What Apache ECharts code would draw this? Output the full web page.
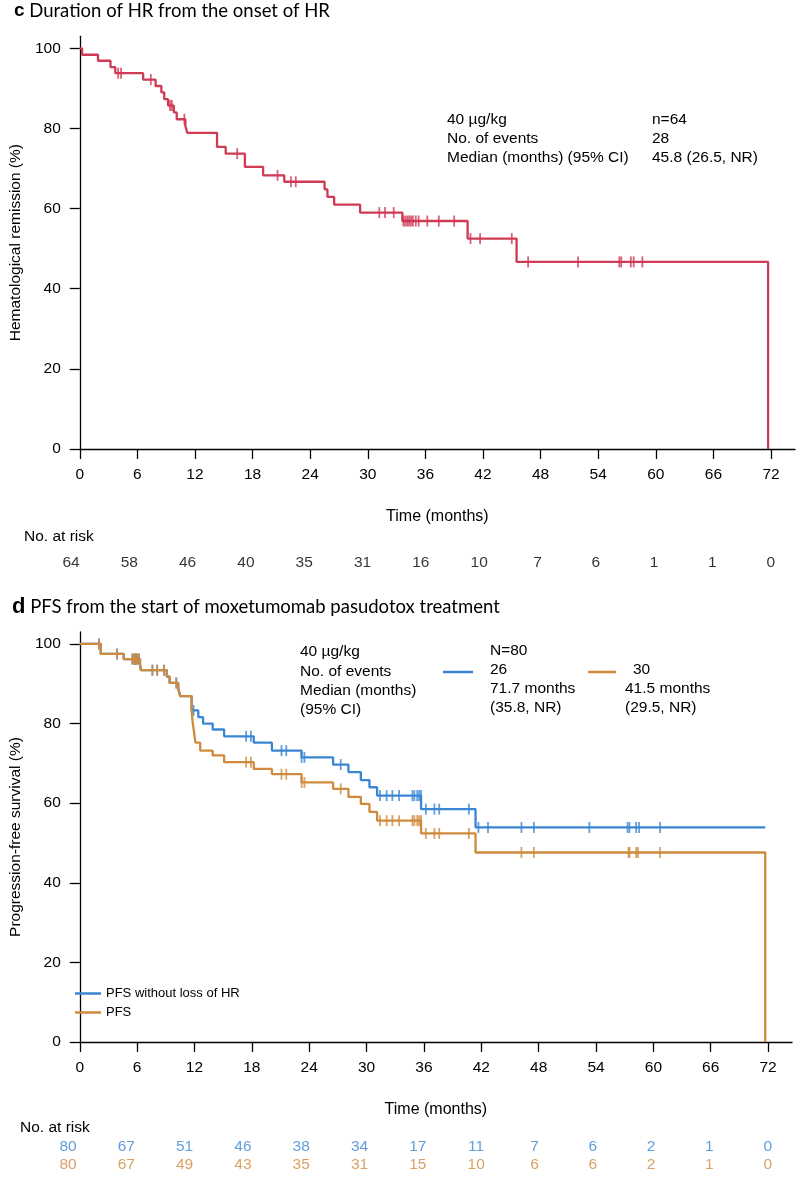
<!DOCTYPE html>
<html><head><meta charset="utf-8">
<script src="https://cdn.jsdelivr.net/npm/echarts@6/dist/echarts.min.js"></script>
<style>html,body{margin:0;padding:0;background:#fff}#c{width:800px;height:1178px}</style>
</head><body><div id="c"></div>
<script>
// ---------- data ----------
const xTicks = [0, 6, 12, 18, 24, 30, 36, 42, 48, 54, 60, 66, 72];
const yTicks = [0, 20, 40, 60, 80, 100];

const hrRisk = [64, 58, 46, 40, 35, 31, 16, 10, 7, 6, 1, 1, 0];
const pfsNoLossRisk = [80, 67, 51, 46, 38, 34, 17, 11, 7, 6, 2, 1, 0];
const pfsRisk = [80, 67, 49, 43, 35, 31, 15, 10, 6, 6, 2, 1, 0];

// Duration of HR (time in months, % in remission)
const hrCurve = [[0,100],[0.24,98.4],[1.9,96.9],[3.2,95.3],[3.7,93.8],[6.6,92.2],[7.9,90.6],[8.5,89.0],[8.8,87.3],[9.2,85.7],[9.8,84.0],[10.1,82.3],[11.0,80.6],[11.2,78.9],[14.3,75.4],[15.2,73.7],[17.2,70.4],[19.1,68.3],[21.3,66.7],[25.5,64.8],[25.8,62.9],[26.5,61.0],[29.2,59.0],[33.6,56.9],[40.4,52.5],[45.5,46.7],[71.7,0]];
const hrCensor = [[4.0,93.8],[4.3,93.8],[7.4,92.2],[9.4,85.7],[9.6,85.7],[10.9,82.3],[16.4,73.7],[20.6,68.3],[22.0,66.7],[22.5,66.7],[31.2,59.0],[31.8,59.0],[32.7,59.0],[33.7,56.9],[33.9,56.9],[34.1,56.9],[34.3,56.9],[34.5,56.9],[34.7,56.9],[35.0,56.9],[35.3,56.9],[36.2,56.9],[37.4,56.9],[39.0,56.9],[40.7,52.5],[41.7,52.5],[45.0,52.5],[46.7,46.7],[51.9,46.7],[56.2,46.7],[56.4,46.7],[57.4,46.7],[57.7,46.7],[58.6,46.7]];

// PFS without loss of HR
const pfsNoLossCurve = [[0,100],[2.2,97.5],[4.6,96.2],[6.3,94.8],[6.4,93.4],[9.1,91.8],[9.4,90.2],[10.3,88.8],[10.5,86.9],[11.7,83.3],[12.4,81.6],[12.9,80.0],[13.9,78.5],[15.1,76.8],[18.2,75.2],[20.1,73.2],[23.2,71.5],[26.5,69.7],[28.1,67.8],[29.4,65.8],[30.3,64.0],[31.1,61.9],[35.7,58.5],[41.4,53.9],[71.7,53.9]];
const pfsNoLossCensor = [[2.0,100],[3.9,97.5],[5.5,96.2],[5.7,96.2],[5.8,96.2],[5.9,96.2],[6.0,96.2],[6.2,96.2],[7.6,93.4],[8.1,93.4],[8.8,93.4],[10.1,90.2],[11.9,83.3],[17.4,76.8],[17.9,76.8],[21.1,73.2],[21.6,73.2],[23.2,71.5],[23.5,71.5],[27.3,69.7],[31.4,61.9],[32.1,61.9],[32.7,61.9],[33.4,61.9],[34.8,61.9],[35.0,61.9],[35.3,61.9],[35.5,61.9],[35.7,61.9],[36.2,58.5],[37.1,58.5],[37.6,58.5],[40.7,58.5],[41.7,53.9],[42.7,53.9],[46.2,53.9],[47.5,53.9],[53.3,53.9],[57.3,53.9],[57.5,53.9],[58.2,53.9],[58.5,53.9],[60.7,53.9]];

// PFS
const pfsCurve = [[0,100],[2.2,97.5],[4.6,96.2],[6.3,94.8],[6.4,93.4],[9.1,91.8],[9.4,90.2],[10.3,88.8],[10.5,86.9],[11.7,83.3],[11.8,80.5],[12.0,77.0],[12.1,75.2],[12.6,73.2],[13.9,72.0],[15.1,70.3],[18.2,68.6],[20.1,67.3],[23.2,65.2],[26.5,63.6],[28.1,61.6],[29.4,59.8],[30.3,57.8],[31.1,55.6],[35.7,52.4],[41.4,47.6],[71.7,0]];
const pfsCensor = [[2.0,100],[3.9,97.5],[5.5,96.2],[5.7,96.2],[5.8,96.2],[5.9,96.2],[6.0,96.2],[6.2,96.2],[7.6,93.4],[8.1,93.4],[8.8,93.4],[10.1,90.2],[17.4,70.3],[17.9,70.3],[21.1,67.3],[21.6,67.3],[23.2,65.2],[23.5,65.2],[27.3,63.6],[31.4,55.6],[32.1,55.6],[32.7,55.6],[33.4,55.6],[34.8,55.6],[35.0,55.6],[35.3,55.6],[35.5,55.6],[35.7,55.6],[36.2,52.4],[37.1,52.4],[37.6,52.4],[40.7,52.4],[46.2,47.6],[47.5,47.6],[57.4,47.6],[57.5,47.6],[58.2,47.6],[58.4,47.6],[60.7,47.6]];

// ---------- style ----------
const F = 'Liberation Sans, Arial, sans-serif';
const TF = 'Lato, Open Sans, sans-serif';
const RED = '#cf3a55', BLUE = '#3a86d2', ORANGE = '#d08a3c';
const XMAX = 74.5;
const axisLineStyle = { color: '#000', width: 1.3 };

function mainX(gi) {
  return {
    gridIndex: gi, type: 'value', min: 0, max: XMAX,
    axisLine: { show: true, onZero: false, lineStyle: axisLineStyle },
    axisTick: { show: true, length: 10, customValues: xTicks, lineStyle: axisLineStyle },
    axisLabel: { customValues: xTicks, fontSize: 15.5, color: '#000', margin: 18, fontFamily: F },
    splitLine: { show: false },
    name: 'Time (months)', nameLocation: 'middle', nameGap: 60,
    nameTextStyle: { fontSize: 16, color: '#000', fontFamily: F }
  };
}
function mainY(gi, name) {
  return {
    gridIndex: gi, type: 'value', min: 0, max: 103,
    axisLine: { show: true, onZero: false, lineStyle: axisLineStyle },
    axisTick: { show: true, length: 10, customValues: yTicks, lineStyle: axisLineStyle },
    axisLabel: { customValues: yTicks, fontSize: 15.5, color: '#000', margin: 19, fontFamily: F },
    splitLine: { show: false },
    name: name, nameLocation: 'middle', nameGap: 50,
    nameTextStyle: { fontSize: 15.5, color: '#000', fontFamily: F }
  };
}
function hiddenX(gi) {
  return { gridIndex: gi, type: 'value', min: 0, max: XMAX, show: false };
}
function hiddenY(gi, max) {
  return { gridIndex: gi, type: 'value', min: 0, max: max, show: false };
}
function kmLine(name, data, color, xi, yi, z) {
  return { name: name, type: 'line', step: 'end', data: data, xAxisIndex: xi, yAxisIndex: yi,
    symbol: 'none', lineStyle: { color: color, width: 2.3 }, itemStyle: { color: color },
    animation: false, z: z };
}
function censor(name, data, color, xi, yi, z) {
  return { name: name, type: 'scatter', data: data, xAxisIndex: xi, yAxisIndex: yi,
    symbol: 'rect', symbolSize: [1.8, 11], itemStyle: { color: color }, animation: false, z: z };
}
function riskRow(values, y, color, xi, yi) {
  return { type: 'scatter', xAxisIndex: xi, yAxisIndex: yi, symbolSize: 1,
    itemStyle: { color: 'transparent' }, animation: false, silent: true,
    data: xTicks.map((t, i) => [t, y, values[i]]),
    label: { show: true, position: 'inside', formatter: p => String(p.value[2]),
      color: color, fontSize: 15.5, fontFamily: F } };
}
function txt(x, y, s, size) {
  return { type: 'text', x: x, y: y,
    style: { text: s, fontSize: size || 15.5, fontFamily: F, fill: '#000', textVerticalAlign: 'middle' } };
}

const chart = echarts.init(document.getElementById('c'), null, { renderer: 'canvas' });
chart.setOption({
  backgroundColor: '#fff',
  animation: false,
  grid: [
    { left: 71, top: 36.3, width: 724, height: 412.7 },
    { left: 68, top: 632, width: 724, height: 410 },
    { left: 71, top: 553, width: 724, height: 20 },
    { left: 68, top: 1138, width: 724, height: 36 }
  ],
  xAxis: [mainX(0), mainX(1), hiddenX(2), hiddenX(3)],
  yAxis: [mainY(0, 'Hematological remission (%)'), mainY(1, 'Progression-free survival (%)'), hiddenY(2, 1), hiddenY(3, 2)],
  legend: {
    left: 70, top: 982, orient: 'vertical', itemGap: 6, itemWidth: 26, itemHeight: 2.5,
    icon: 'rect', textStyle: { fontSize: 13, color: '#000', fontFamily: F },
    data: ['PFS without loss of HR', 'PFS']
  },
  series: [
    kmLine('HR', hrCurve, RED, 0, 0, 3),
    censor('HRc', hrCensor, RED, 0, 0, 3),
    kmLine('PFS without loss of HR', pfsNoLossCurve, BLUE, 1, 1, 3),
    censor('PFS without loss of HR', pfsNoLossCensor, BLUE, 1, 1, 3),
    kmLine('PFS', pfsCurve, ORANGE, 1, 1, 4),
    censor('PFS', pfsCensor, ORANGE, 1, 1, 4),
    riskRow(hrRisk, 0.5, '#000', 2, 2),
    riskRow(pfsNoLossRisk, 1.5, BLUE, 3, 3),
    riskRow(pfsRisk, 0.5, ORANGE, 3, 3)
  ],
  graphic: [
    { type: 'text', x: 14, y: 11, style: { text: '{b|c} Duration of HR from the onset of HR',
      rich: { b: { fontWeight: 'bold', fontSize: 19, fontFamily: F } },
      fontSize: 18.5, fontFamily: TF, fill: '#000', textVerticalAlign: 'middle' } },
    { type: 'text', x: 12, y: 607, style: { text: '{b|d} PFS from the start of moxetumomab pasudotox treatment',
      rich: { b: { fontWeight: 'bold', fontSize: 22, fontFamily: F } },
      fontSize: 18.5, fontFamily: TF, fill: '#000', textVerticalAlign: 'middle' } },
    txt(447, 120, '40 µg/kg'), txt(447, 139, 'No. of events'), txt(447, 158, 'Median (months) (95% CI)'),
    txt(652, 120, 'n=64'), txt(652, 139, '28'), txt(652, 158, '45.8 (26.5, NR)'),
    txt(24, 537, 'No. at risk'),
    txt(300, 652, '40 µg/kg'), txt(300, 672, 'No. of events'), txt(300, 691, 'Median (months)'), txt(300, 710, '(95% CI)'),
    txt(490, 651, 'N=80'), txt(490, 670, '26'), txt(490, 689, '71.7 months'), txt(490, 708, '(35.8, NR)'),
    txt(633, 670, '30'), txt(625, 689, '41.5 months'), txt(625, 708, '(29.5, NR)'),
    { type: 'line', shape: { x1: 443, y1: 672, x2: 473, y2: 672 }, style: { stroke: BLUE, lineWidth: 2.5 } },
    { type: 'line', shape: { x1: 588, y1: 672, x2: 616, y2: 672 }, style: { stroke: ORANGE, lineWidth: 2.5 } },
    txt(20, 1128, 'No. at risk')
  ]
});
</script></body></html>
